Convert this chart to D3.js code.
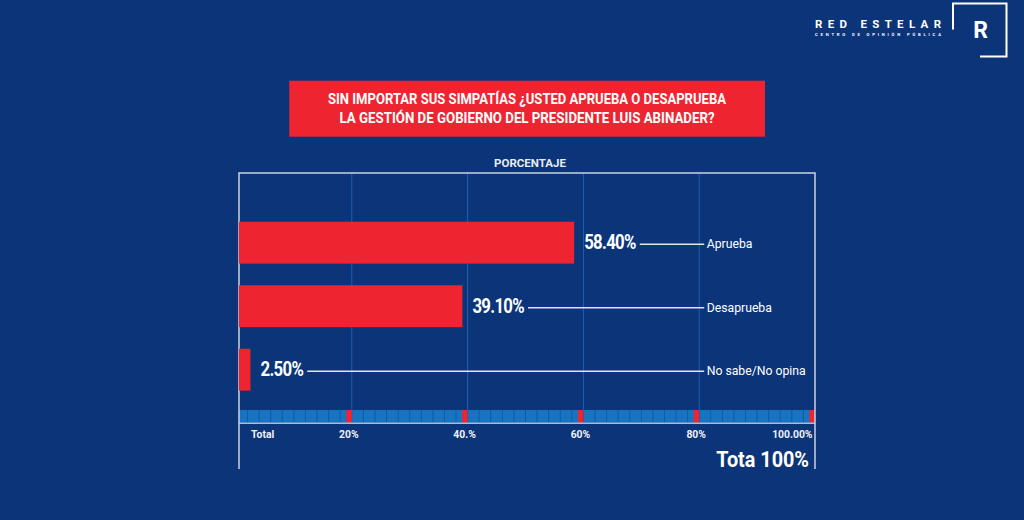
<!DOCTYPE html>
<html>
<head>
<meta charset="utf-8">
<script src="https://cdn.jsdelivr.net/npm/d3@7"></script>
<style>
  html, body { margin: 0; padding: 0; background: #0b3479; }
  svg { display: block; }
  .narrow { font-family: "Liberation Sans Narrow", "Roboto", "Liberation Sans", sans-serif; }
</style>
</head>
<body>
<svg id="chart" width="1024" height="520"></svg>
<script>
const categories = ["Aprueba", "Desaprueba", "No sabe/No opina"];
const values = [58.4, 39.1, 2.5];
const valueLabels = ["58.40%", "39.10%", "2.50%"];
const tickValues = [0, 20, 40, 60, 80, 100];
const tickLabels = ["Total", "20%", "40.%", "60%", "80%", "100.00%"];
const titleLines = ["SIN IMPORTAR SUS SIMPATÍAS ¿USTED APRUEBA O DESAPRUEBA",
                    "LA GESTIÓN DE GOBIERNO DEL PRESIDENTE LUIS ABINADER?"];
const axisTitle = "PORCENTAJE";
const totalLabel = "Tota 100%";
const brandName = "RED ESTELAR";
const brandSub = "CENTRO DE OPINIÓN PÚBLICA";

const BG = "#0b3479", RED = "#ee2430", WHITE = "#ffffff";
const svg = d3.select("#chart");
svg.append("rect").attr("width", 1024).attr("height", 520).attr("fill", BG);

// squeeze text horizontally to mimic a condensed face
function condense(sel, f) {
  const w = sel.node().getComputedTextLength();
  sel.attr("textLength", w * f).attr("lengthAdjust", "spacingAndGlyphs");
  return sel;
}

// scales
const x = d3.scaleLinear().domain([0, 100]).range([236, 815]);
const y = d3.scaleBand().domain(categories).range([221.7, 390.7]).paddingInner(0.34).paddingOuter(0);
const frameLeft = 239, frameRight = 815;
const frameTop = 173, stripTop = 410, stripBottom = 422.7, frameBottom = 469;

// logo
const logo = svg.append("g");
logo.append("text").attr("class", "narrow").attr("x", 815).attr("y", 27.7)
  .attr("font-size", 11.5).attr("font-weight", "bold").attr("fill", WHITE)
  .attr("textLength", 126).attr("lengthAdjust", "spacing").text(brandName);
logo.append("text").attr("class", "narrow").attr("x", 815).attr("y", 36.3)
  .attr("font-size", 4.2).attr("font-weight", "bold").attr("fill", WHITE)
  .attr("textLength", 126).attr("lengthAdjust", "spacing").text(brandSub);
logo.append("path")
  .attr("d", "M953,29.5 V3.5 H1006.5 V56.5 H980")
  .attr("fill", "none").attr("stroke", WHITE).attr("stroke-width", 2);
logo.append("text").attr("class", "narrow").attr("x", 980.5).attr("y", 37.7)
  .attr("text-anchor", "middle").attr("font-size", 23).attr("font-weight", "bold")
  .attr("fill", WHITE).text("R");

// title box
svg.append("rect").attr("x", 289.3).attr("y", 80.7).attr("width", 475.7).attr("height", 56)
  .attr("fill", RED);
const titleWidths = [398, 375];
const titleY = [104.3, 123.3];
titleLines.forEach((t, i) => {
  svg.append("text").attr("class", "narrow").attr("x", 527).attr("y", titleY[i])
    .attr("text-anchor", "middle").attr("font-size", 14.5).attr("font-weight", "bold")
    .attr("fill", WHITE).attr("textLength", titleWidths[i]).attr("lengthAdjust", "spacingAndGlyphs")
    .text(t);
});

// axis title
svg.append("text").attr("x", 530).attr("y", 166.7).attr("text-anchor", "middle")
  .attr("font-family", "Roboto, sans-serif").attr("font-size", 11.5).attr("font-weight", "bold")
  .attr("fill", "#e8ecf4").text(axisTitle);

// gridlines
svg.append("g").selectAll("line").data(tickValues.slice(1, -1)).join("line")
  .attr("x1", d => x(d)).attr("x2", d => x(d))
  .attr("y1", frameTop).attr("y2", stripTop)
  .attr("stroke", "#1a63b3").attr("stroke-width", 1);

// strip
svg.append("rect").attr("x", frameLeft).attr("y", stripTop).attr("width", frameRight - frameLeft)
  .attr("height", stripBottom - stripTop).attr("fill", "#1874c0");
svg.append("g").selectAll("line").data(d3.range(2, 100, 2)).join("line")
  .attr("x1", d => x(d)).attr("x2", d => x(d))
  .attr("y1", stripTop).attr("y2", stripBottom)
  .attr("stroke", "#0f5aa6").attr("stroke-width", 1);
svg.append("g").selectAll("rect").data(tickValues.slice(1)).join("rect")
  .attr("x", d => x(d) - 5.5).attr("y", stripTop).attr("width", 5.5)
  .attr("height", stripBottom - stripTop).attr("fill", RED);
svg.append("line").attr("x1", frameLeft).attr("x2", frameRight).attr("y1", stripBottom + 0.5).attr("y2", stripBottom + 0.5)
  .attr("stroke", "#a9bcd9").attr("stroke-width", 1.5);

// frame
svg.append("path")
  .attr("d", `M${frameLeft},${frameBottom} V${frameTop} H${frameRight} V${frameBottom}`)
  .attr("fill", "none").attr("stroke", "#c9d2e3").attr("stroke-width", 1.5);

// tick labels
svg.append("g").selectAll("text").data(tickValues).join("text")
  .attr("x", (d, i) => i === 0 ? 251 : (i === tickValues.length - 1 ? x(d) - 2.5 : x(d) - 3))
  .attr("y", 438.3)
  .attr("text-anchor", (d, i) => i === 0 ? "start" : (i === tickValues.length - 1 ? "end" : "middle"))
  .attr("font-family", "Roboto, sans-serif")
  .attr("font-size", 11.5).attr("font-weight", "bold").attr("fill", "#f0f3f8")
  .text((d, i) => tickLabels[i])
  .each(function () { condense(d3.select(this), 0.9); });

// total label
condense(svg.append("text").attr("x", 809).attr("y", 466.7)
  .attr("text-anchor", "end").attr("font-family", "Roboto, sans-serif")
  .attr("font-size", 22).attr("font-weight", "bold")
  .attr("fill", WHITE).text(totalLabel), 0.9);

// bars
svg.append("g").selectAll("rect").data(values).join("rect")
  .attr("x", frameLeft).attr("y", (d, i) => y(categories[i]))
  .attr("width", d => x(d) - frameLeft).attr("height", y.bandwidth())
  .attr("fill", RED);

// value labels + leader lines + category labels
const rows = svg.append("g");
values.forEach((v, i) => {
  const cy = y(categories[i]) + y.bandwidth() / 2;
  const vt = rows.append("text")
    .attr("x", x(v) + 10).attr("y", cy + 6.5)
    .attr("font-family", "Roboto, sans-serif")
    .attr("font-size", 19.5).attr("font-weight", "bold").attr("fill", WHITE)
    .attr("letter-spacing", -0.8).text(valueLabels[i]);
  condense(vt, 0.86);
  const w = +vt.attr("textLength");
  rows.append("line")
    .attr("x1", x(v) + 10 + w + 4).attr("x2", x(80) + 5)
    .attr("y1", cy + 1.5).attr("y2", cy + 1.5)
    .attr("stroke", "#dfe5ef").attr("stroke-width", 1.5);
  condense(rows.append("text").attr("x", x(80) + 7.5).attr("y", cy + 5.5)
    .attr("font-family", "Roboto, sans-serif").attr("font-size", 13)
    .attr("fill", WHITE).text(categories[i]), 0.94);
});
</script>
</body>
</html>
